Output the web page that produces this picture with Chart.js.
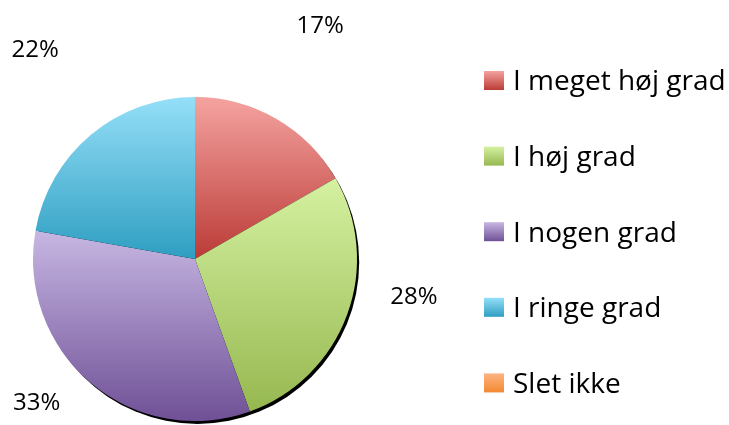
<!DOCTYPE html>
<html><head><meta charset="utf-8">
<script src="https://cdn.jsdelivr.net/npm/chart.js@4.4.1/dist/chart.umd.min.js"></script>
<style>html,body{margin:0;padding:0;background:#fff}#wrap{width:729px;height:425px;position:relative}</style>
</head><body><div id="wrap"><canvas id="c"></canvas></div>
<script>
const categories = ['I meget høj grad', 'I høj grad', 'I nogen grad', 'I ringe grad', 'Slet ikke'];
const values = [16.7, 27.8, 33.3, 22.2, 0];

const topColors = ['#F5A3A0', '#D5F1A1', '#C7B7E3', '#95DFF8', '#FDB383'];
const bottomColors = ['#BB3B37', '#96B850', '#6F5096', '#2E9EC1', '#F28A30'];

function arcBBoxY(el) {
  const {x, y, startAngle, endAngle, outerRadius} = el.getProps(['x','y','startAngle','endAngle','outerRadius'], true);
  let ys = [y, y + Math.sin(startAngle) * outerRadius, y + Math.sin(endAngle) * outerRadius];
  for (let k = -4; k <= 8; k++) {
    const a = k * Math.PI / 2;
    if (a > startAngle && a < endAngle) ys.push(y + Math.sin(a) * outerRadius);
  }
  return [Math.min(...ys), Math.max(...ys)];
}

const gradientShadow = {
  id: 'gradientShadow',
  beforeDatasetsDraw(chart) {
    const ctx = chart.ctx;
    const meta = chart.getDatasetMeta(0);
    const first = meta.data[0];
    if (!first) return;
    const {x, y, outerRadius} = first.getProps(['x','y','outerRadius'], true);
    ctx.save();
    ctx.beginPath();
    ctx.arc(x + 2.5, y + 3.2, outerRadius - 0.3, 0, Math.PI * 2);
    ctx.fillStyle = '#000000';
    ctx.fill();
    ctx.restore();
    meta.data.forEach((el, i) => {
      const [y0, y1] = arcBBoxY(el);
      const g = ctx.createLinearGradient(0, y0, 0, Math.max(y1, y0 + 1));
      g.addColorStop(0, topColors[i]);
      g.addColorStop(1, bottomColors[i]);
      el.options.backgroundColor = g;
    });
  }
};

const pctLabels = {
  id: 'pctLabels',
  afterDatasetsDraw(chart, args, opts) {
    const ctx = chart.ctx;
    const meta = chart.getDatasetMeta(0);
    const data = chart.data.datasets[0].data;
    const total = data.reduce((a, b) => a + b, 0);
    ctx.save();
    ctx.font = opts.size + 'px "Open Sans"';
    ctx.fillStyle = '#000';
    ctx.textAlign = 'center';
    ctx.textBaseline = 'alphabetic';
    meta.data.forEach((el, i) => {
      if (!data[i]) return;
      const {x, y, startAngle, endAngle, outerRadius} = el.getProps(['x','y','startAngle','endAngle','outerRadius'], true);
      const p = opts.placement[i] || {ang: 0, f: 1.4};
      const a = (startAngle + endAngle) / 2 + p.ang * Math.PI / 180;
      const lx = x + Math.cos(a) * outerRadius * p.f;
      const ly = y + Math.sin(a) * outerRadius * p.f;
      const txt = Math.round(data[i] / total * 100) + '%';
      ctx.fillText(txt, lx, ly + opts.size * 0.714 / 2);
    });
    ctx.restore();
  }
};

const sideLegend = {
  id: 'sideLegend',
  afterDraw(chart, args, opts) {
    const ctx = chart.ctx;
    const labels = chart.data.labels;
    ctx.save();
    ctx.font = opts.size + 'px "Open Sans"';
    ctx.textAlign = 'left';
    ctx.textBaseline = 'alphabetic';
    labels.forEach((lab, i) => {
      const cy = opts.y0 + i * opts.step;
      const bx = opts.x, by = cy - opts.box / 2;
      const g = ctx.createLinearGradient(0, by, 0, by + opts.box);
      g.addColorStop(0, topColors[i]);
      g.addColorStop(1, bottomColors[i]);
      ctx.fillStyle = g;
      ctx.fillRect(bx, by, opts.boxW, opts.box);
      ctx.fillStyle = '#000';
      ctx.fillText(lab, opts.textX, cy + opts.size * 0.714 / 2);
    });
    ctx.restore();
  }
};

new Chart(document.getElementById('c'), {
  type: 'pie',
  data: {
    labels: categories,
    datasets: [{
      data: values,
      backgroundColor: bottomColors,
      borderWidth: 0
    }]
  },
  options: {
    responsive: true,
    maintainAspectRatio: false,
    animation: false,
    events: [],
    layout: { padding: { left: 33, right: 372, top: 97, bottom: 4 } },
    plugins: {
      legend: { display: false },
      tooltip: { enabled: false },
      pctLabels: {
        size: 24,
        placement: [
          {ang: -2.0, f: 1.643},
          {ang: -10.7, f: 1.370},
          {ang: 7.9, f: 1.315},
          {ang: 2.7, f: 1.630}
        ]
      },
      sideLegend: { x: 484, boxW: 20, box: 19, textX: 513, y0: 80.5, step: 75.6, size: 28 }
    }
  },
  plugins: [gradientShadow, pctLabels, sideLegend]
});
</script>
</body></html>
